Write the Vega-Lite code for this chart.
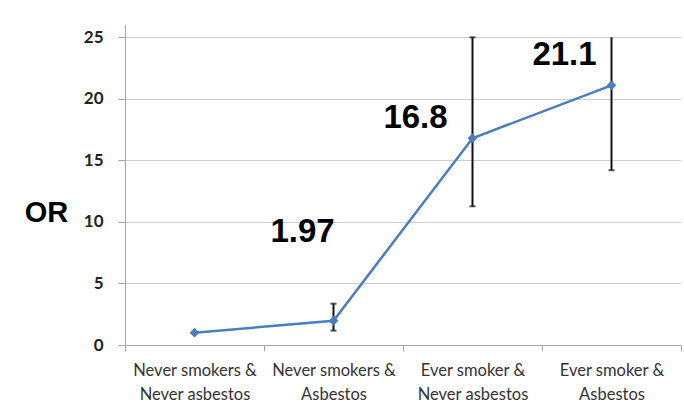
{
  "$schema": "https://vega.github.io/schema/vega-lite/v6.json",
  "autosize": "none",
  "width": 556,
  "height": 320,
  "padding": {"left": 125, "top": 25, "right": 3, "bottom": 73},
  "background": "white",
  "config": {"view": {"stroke": null}, "font": "Lato"},
  "data": {
    "values": [
      {"cat": "Never smokers & Never asbestos", "or": 1, "lo": null, "hi": null, "label": ""},
      {"cat": "Never smokers & Asbestos", "or": 1.97, "lo": 1.17, "hi": 3.36, "label": "1.97"},
      {"cat": "Ever smoker & Never asbestos", "or": 16.8, "lo": 11.27, "hi": 25, "label": "16.8"},
      {"cat": "Ever smoker & Asbestos", "or": 21.1, "lo": 14.2, "hi": 25, "label": "21.1"}
    ]
  },
  "encoding": {
    "x": {
      "field": "cat",
      "type": "nominal",
      "sort": null,
      "scale": {"type": "band", "paddingInner": 0, "paddingOuter": 0},
      "axis": {
        "title": null,
        "labelAngle": 0,
        "labelExpr": "split(replace(datum.label, '& ', '&|'), '|')",
        "labelFont": "Lato",
        "labelFontSize": 16.5,
        "labelColor": "#333333",
        "labelLineHeight": 24,
        "labelPadding": 11,
        "tickBand": "extent",
        "tickSize": 6,
        "tickColor": "#a6a6a6",
        "domainColor": "#a6a6a6",
        "grid": false
      }
    }
  },
  "layer": [
    {
      "mark": {"type": "line", "color": "#4a7ebb", "strokeWidth": 2.5},
      "encoding": {
        "y": {
          "field": "or",
          "type": "quantitative",
          "scale": {"domain": [0, 25]},
          "axis": {
            "title": "OR",
            "titleAngle": 0,
            "titleFont": "Liberation Sans",
            "titleFontSize": 29,
            "titleFontWeight": "bold",
            "titleColor": "black",
            "titleX": -79,
            "titleY": 187,
            "titleAlign": "center",
            "titleBaseline": "middle",
            "values": [0, 5, 10, 15, 20, 25],
            "labelFont": "Lato",
            "labelFontWeight": "bold",
            "labelFontSize": 17,
            "labelColor": "#222222",
            "labelPadding": 15,
            "tickSize": 7,
            "tickColor": "#a6a6a6",
            "domainColor": "#a6a6a6",
            "grid": true,
            "gridColor": "#cfcfcf",
            "gridWidth": 1
          }
        }
      }
    },
    {
      "transform": [{"filter": "datum.lo != null"}],
      "mark": {"type": "rule", "color": "#111111", "strokeWidth": 2},
      "encoding": {
        "y": {"field": "lo", "type": "quantitative"},
        "y2": {"field": "hi"}
      }
    },
    {
      "transform": [{"filter": "datum.lo != null"}],
      "mark": {"type": "tick", "orient": "horizontal", "color": "#111111", "size": 6, "thickness": 2},
      "encoding": {
        "y": {"field": "lo", "type": "quantitative"}
      }
    },
    {
      "transform": [{"filter": "datum.lo != null && datum.cat != 'Ever smoker & Asbestos'"}],
      "mark": {"type": "tick", "orient": "horizontal", "color": "#111111", "size": 6, "thickness": 2},
      "encoding": {
        "y": {"field": "hi", "type": "quantitative"}
      }
    },
    {
      "mark": {"type": "point", "shape": "diamond", "filled": true, "color": "#4a7ebb", "size": 95, "opacity": 1},
      "encoding": {
        "y": {"field": "or", "type": "quantitative"}
      }
    },
    {
      "transform": [{"filter": "datum.cat == 'Never smokers & Asbestos'"}],
      "mark": {"type": "text", "font": "Liberation Sans", "fontWeight": "bold", "fontSize": 33, "color": "black", "align": "center", "baseline": "middle", "dx": -31, "dy": -89},
      "encoding": {
        "y": {"field": "or", "type": "quantitative"},
        "text": {"field": "label"}
      }
    },
    {
      "transform": [{"filter": "datum.cat == 'Ever smoker & Never asbestos'"}],
      "mark": {"type": "text", "font": "Liberation Sans", "fontWeight": "bold", "fontSize": 33, "color": "black", "align": "center", "baseline": "middle", "dx": -57, "dy": -20},
      "encoding": {
        "y": {"field": "or", "type": "quantitative"},
        "text": {"field": "label"}
      }
    },
    {
      "transform": [{"filter": "datum.cat == 'Ever smoker & Asbestos'"}],
      "mark": {"type": "text", "font": "Liberation Sans", "fontWeight": "bold", "fontSize": 33, "color": "black", "align": "center", "baseline": "middle", "dx": -47, "dy": -30},
      "encoding": {
        "y": {"field": "or", "type": "quantitative"},
        "text": {"field": "label"}
      }
    }
  ]
}
